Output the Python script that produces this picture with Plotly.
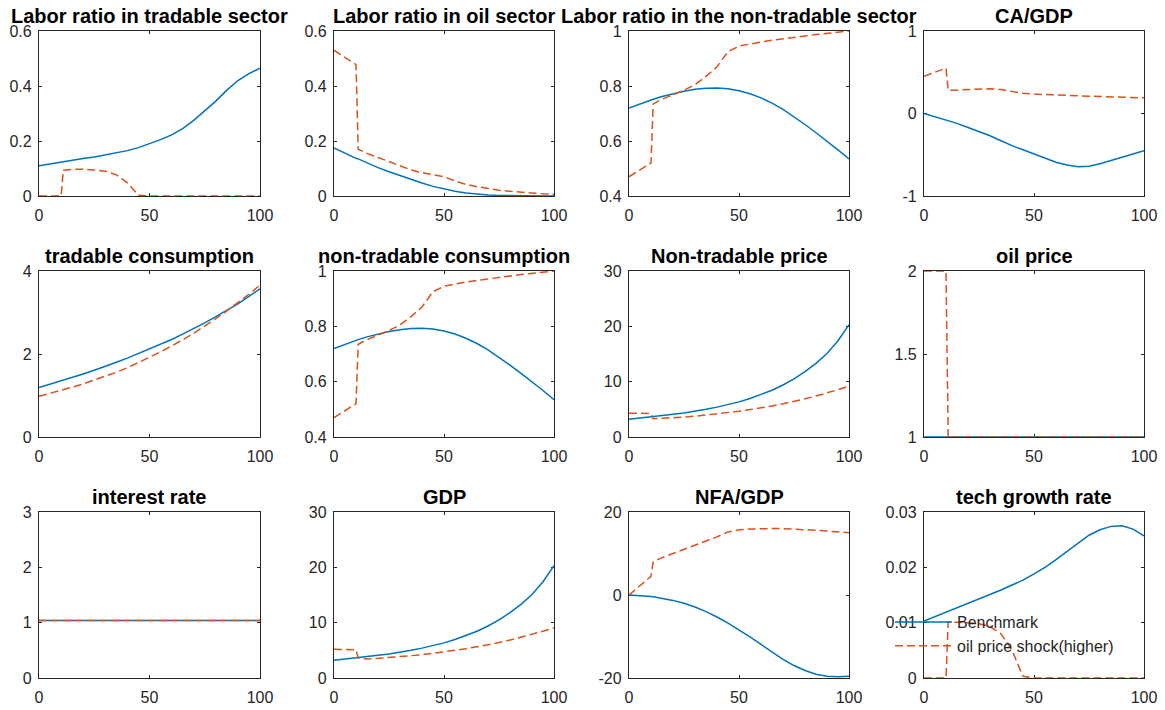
import plotly.graph_objects as go

# Simulation periods shared by every panel
period = [0, 5, 10, 11, 15, 20, 25, 30, 35, 40, 45, 50, 55, 60, 65, 70, 75, 80, 85, 90, 95, 100]

# ---- Benchmark (solid) and oil price shock (dashed) paths ----
labor_trad_bench = [0.11, 0.117, 0.124, 0.125, 0.13, 0.136, 0.142, 0.149, 0.156, 0.165, 0.176, 0.19,
                    0.205, 0.222, 0.245, 0.275, 0.31, 0.345, 0.385, 0.42, 0.445, 0.465]
labor_trad_shock = [0, 0, 0, 0.094, 0.097, 0.097, 0.095, 0.09, 0.077, 0.048, 0.003, 0,
                    0, 0, 0, 0, 0, 0, 0, 0, 0, 0]

labor_oil_bench = [0.175, 0.155, 0.137, 0.135, 0.12, 0.103, 0.088, 0.074, 0.06, 0.047, 0.035, 0.025,
                   0.017, 0.011, 0.007, 0.004, 0.002, 0.001, 0.0005, 0.0002, 0.0001, 0]
labor_oil_shock = [0.53, 0.505, 0.478, 0.17, 0.155, 0.14, 0.125, 0.11, 0.095, 0.085, 0.078, 0.07,
                   0.055, 0.042, 0.034, 0.027, 0.021, 0.017, 0.013, 0.011, 0.008, 0.006]

labor_nontrad_bench = [0.72, 0.735, 0.75, 0.752, 0.762, 0.772, 0.781, 0.788, 0.792, 0.793, 0.79, 0.783,
                       0.772, 0.757, 0.738, 0.715, 0.688, 0.66, 0.63, 0.6, 0.568, 0.535]
labor_nontrad_shock = [0.47, 0.495, 0.52, 0.735, 0.752, 0.768, 0.785, 0.805, 0.835, 0.87, 0.925, 0.945,
                       0.953, 0.96, 0.966, 0.972, 0.977, 0.982, 0.987, 0.992, 0.996, 1.0]

ca_gdp_bench = [0, -0.04, -0.08, -0.09, -0.12, -0.17, -0.22, -0.27, -0.33, -0.39, -0.44, -0.49,
                -0.54, -0.59, -0.625, -0.645, -0.64, -0.61, -0.57, -0.53, -0.49, -0.45]
ca_gdp_shock = [0.45, 0.5, 0.55, 0.28, 0.285, 0.29, 0.295, 0.3, 0.29, 0.265, 0.245, 0.235,
                0.228, 0.222, 0.218, 0.215, 0.21, 0.205, 0.2, 0.197, 0.193, 0.19]

cons_trad_bench = [1.19, 1.27, 1.35, 1.37, 1.43, 1.52, 1.61, 1.7, 1.8, 1.9, 2.01, 2.12,
                   2.23, 2.35, 2.48, 2.61, 2.75, 2.9, 3.05, 3.21, 3.39, 3.57]
cons_trad_shock = [0.98, 1.05, 1.12, 1.14, 1.2, 1.28, 1.37, 1.46, 1.56, 1.67, 1.79, 1.92,
                   2.05, 2.19, 2.34, 2.5, 2.67, 2.85, 3.04, 3.23, 3.44, 3.66]

cons_nontrad_bench = [0.72, 0.735, 0.75, 0.752, 0.762, 0.772, 0.781, 0.788, 0.792, 0.793, 0.79, 0.783,
                      0.772, 0.757, 0.738, 0.715, 0.688, 0.66, 0.63, 0.6, 0.568, 0.535]
cons_nontrad_shock = [0.47, 0.495, 0.52, 0.735, 0.752, 0.768, 0.785, 0.805, 0.835, 0.87, 0.925, 0.945,
                      0.953, 0.96, 0.966, 0.972, 0.977, 0.982, 0.987, 0.992, 0.996, 1.0]

price_nontrad_bench = [3.2, 3.4, 3.6, 3.65, 3.85, 4.1, 4.35, 4.65, 5.0, 5.4, 5.85, 6.35,
                       6.95, 7.65, 8.45, 9.4, 10.5, 11.8, 13.3, 15.1, 17.4, 20.3]
price_nontrad_shock = [4.3, 4.3, 4.25, 3.3, 3.35, 3.45, 3.6, 3.75, 3.95, 4.15, 4.4, 4.65,
                       4.95, 5.25, 5.6, 6.0, 6.4, 6.9, 7.4, 7.95, 8.55, 9.2]

oil_price_bench = [1] * 22
oil_price_shock = [2, 2, 2, 1, 1, 1, 1, 1, 1, 1, 1, 1, 1, 1, 1, 1, 1, 1, 1, 1, 1, 1]

interest_bench = [1.04] * 22
interest_shock = [1.04] * 22

gdp_bench = [3.2, 3.4, 3.6, 3.65, 3.85, 4.1, 4.35, 4.65, 5.0, 5.4, 5.85, 6.35,
             6.95, 7.65, 8.45, 9.4, 10.5, 11.8, 13.3, 15.1, 17.4, 20.3]
gdp_shock = [5.2, 5.2, 5.1, 3.6, 3.45, 3.55, 3.7, 3.85, 4.0, 4.2, 4.45, 4.7,
             5.0, 5.3, 5.65, 6.0, 6.4, 6.85, 7.35, 7.9, 8.45, 9.05]

nfa_gdp_bench = [0, -0.1, -0.35, -0.4, -0.75, -1.3, -2.0, -2.9, -4.0, -5.3, -6.8, -8.4,
                 -10.1, -11.9, -13.8, -15.5, -17.0, -18.2, -19.1, -19.6, -19.7, -19.6]
nfa_gdp_shock = [0, 2.2, 4.5, 8.0, 9.0, 10.0, 11.0, 12.0, 13.0, 14.0, 15.2, 15.7,
                 15.9, 16.0, 16.0, 16.0, 15.9, 15.8, 15.6, 15.4, 15.2, 15.0]

tech_growth_bench = [0.0103, 0.0111, 0.0119, 0.012, 0.0127, 0.0134, 0.0142, 0.015, 0.0159, 0.0168, 0.0177,
                     0.0188, 0.02, 0.0214, 0.0229, 0.0244, 0.0258, 0.0268, 0.0274, 0.0275, 0.0269, 0.0257]
tech_growth_shock = [0, 0, 0, 0.0101, 0.0101, 0.01, 0.0098, 0.0093, 0.008, 0.005, 0.0003, 0,
                     0, 0, 0, 0, 0, 0, 0, 0, 0, 0]

# ---- Panel titles, axis ranges and tick values ----
titles = ["Labor ratio in tradable sector", "Labor ratio in oil sector",
          "Labor ratio in the non-tradable sector", "CA/GDP",
          "tradable consumption", "non-tradable consumption", "Non-tradable price", "oil price",
          "interest rate", "GDP", "NFA/GDP", "tech growth rate"]
bench_series = [labor_trad_bench, labor_oil_bench, labor_nontrad_bench, ca_gdp_bench,
                cons_trad_bench, cons_nontrad_bench, price_nontrad_bench, oil_price_bench,
                interest_bench, gdp_bench, nfa_gdp_bench, tech_growth_bench]
shock_series = [labor_trad_shock, labor_oil_shock, labor_nontrad_shock, ca_gdp_shock,
                cons_trad_shock, cons_nontrad_shock, price_nontrad_shock, oil_price_shock,
                interest_shock, gdp_shock, nfa_gdp_shock, tech_growth_shock]
y_ranges = [[0, 0.6], [0, 0.6], [0.4, 1], [-1, 1],
            [0, 4], [0.4, 1], [0, 30], [1, 2],
            [0, 3], [0, 30], [-20, 20], [0, 0.03]]
y_ticks = [[0, 0.2, 0.4, 0.6], [0, 0.2, 0.4, 0.6], [0.4, 0.6, 0.8, 1], [-1, 0, 1],
           [0, 2, 4], [0.4, 0.6, 0.8, 1], [0, 10, 20, 30], [1, 1.5, 2],
           [0, 1, 2, 3], [0, 10, 20, 30], [-20, 0, 20], [0, 0.01, 0.02, 0.03]]
x_ticks = [0, 50, 100]

legend_names = ["Benchmark", "oil price shock(higher)"]

BLUE = "#0072BD"
RED = "#D95319"
AXIS = "#262626"
FONT = "Liberation Sans, Arial, sans-serif"

W, H = 1165, 710
col_px = [(39, 260), (334, 554), (629, 849), (924, 1144)]
row_px = [(31, 196), (271, 437), (512, 678)]

fig = go.Figure()
layout = dict(width=W, height=H, autosize=False, margin=dict(l=0, r=0, t=0, b=0, pad=0),
              paper_bgcolor="white", plot_bgcolor="white", showlegend=True,
              font=dict(family=FONT, size=16, color=AXIS))
annotations = []

for i in range(12):
    r, c = divmod(i, 4)
    n = i + 1
    xa = "x" if n == 1 else f"x{n}"
    ya = "y" if n == 1 else f"y{n}"
    x0, x1 = col_px[c]
    y0, y1 = row_px[r]
    xdom = [x0 / W, x1 / W]
    ydom = [1 - y1 / H, 1 - y0 / H]
    common = dict(showline=True, mirror="ticks", linecolor=AXIS, linewidth=1.3,
                  ticks="inside", ticklen=3, tickwidth=1, tickcolor=AXIS,
                  showgrid=False, zeroline=False, layer="below traces", automargin=False,
                  tickfont=dict(family=FONT, size=16, color=AXIS))
    layout["xaxis" if n == 1 else f"xaxis{n}"] = dict(
        domain=xdom, anchor=ya, range=[0, 100], tickvals=x_ticks,
        ticktext=[f"{v:g}" for v in x_ticks], ticklabelstandoff=5, **common)
    layout["yaxis" if n == 1 else f"yaxis{n}"] = dict(
        domain=ydom, anchor=xa, range=y_ranges[i], tickvals=y_ticks[i],
        ticktext=[f"{v:g}" for v in y_ticks[i]], ticklabelstandoff=3, **common)

    show = (n == 12)
    fig.add_trace(go.Scatter(x=period, y=bench_series[i], mode="lines", xaxis=xa, yaxis=ya,
                             line=dict(color=BLUE, width=1.5), name=legend_names[0],
                             legendgroup="bench", showlegend=show))
    fig.add_trace(go.Scatter(x=period, y=shock_series[i], mode="lines", xaxis=xa, yaxis=ya,
                             line=dict(color=RED, width=1.5, dash="8px,4px"), name=legend_names[1],
                             legendgroup="shock", showlegend=show))

    annotations.append(dict(text=f"<b>{titles[i]}</b>", xref="paper", yref="paper",
                            x=(xdom[0] + xdom[1]) / 2, y=ydom[1], xanchor="center", yanchor="bottom",
                            yshift=2, showarrow=False,
                            font=dict(family=FONT, size=20, color="#000000")))

layout["annotations"] = annotations
layout["legend"] = dict(x=890 / W, y=1 - 605 / H, xanchor="left", yanchor="top",
                        bgcolor="rgba(0,0,0,0)", borderwidth=0, traceorder="grouped",
                        tracegroupgap=0, itemwidth=57,
                        font=dict(family=FONT, size=16, color=AXIS))
fig.update_layout(**layout)
fig.write_html("out.html")
